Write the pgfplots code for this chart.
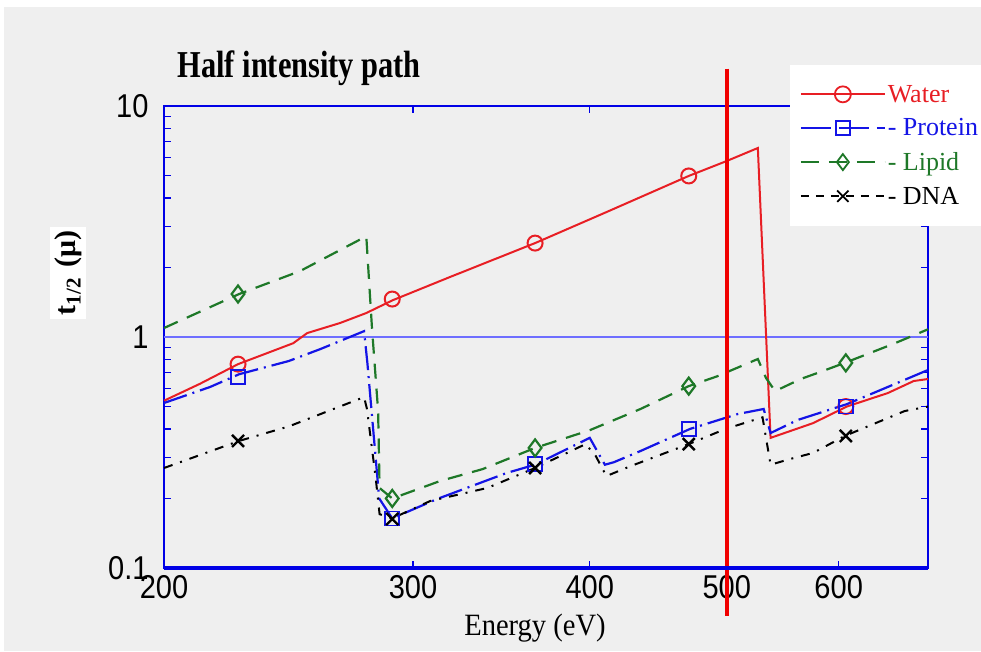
\documentclass[border=0pt]{standalone}
\usepackage{fontspec}
\setmainfont{Liberation Serif}
\setsansfont{Liberation Sans}
\usepackage{graphicx}
\usepackage{pgfplots}
\pgfplotsset{compat=1.18}
\definecolor{cred}{RGB}{232,30,36}
\definecolor{vred}{RGB}{240,0,0}
\definecolor{cblue}{RGB}{20,20,230}
\definecolor{cgreen}{RGB}{30,120,40}
\definecolor{axblue}{RGB}{0,0,230}
\definecolor{gridblue}{RGB}{110,110,255}
\definecolor{bg}{RGB}{239,239,239}
\newcommand{\tl}[1]{\scalebox{0.88}[1]{#1}}
\begin{document}
\begin{tikzpicture}[x=1pt,y=1pt]
\useasboundingbox (0,0) rectangle (981,651);
\fill[white] (0,0) rectangle (981,651);
\fill[bg] (4,0) rectangle (981,644);
\begin{axis}[
  at={(164pt,83pt)}, anchor=south west, scale only axis,
  width=764pt, height=462pt,
  xmode=log, ymode=log, xmin=200, xmax=694, ymin=0.1, ymax=10,
  clip=false,
  axis line style={axblue, line width=1.8pt},
  xtick={200,300,400,500,600}, xticklabels={\tl{200},\tl{300},\tl{400},\tl{500},\tl{600}},
  ytick={0.1,1,10}, yticklabels={\tl{0.1},\tl{1},\tl{10}},
  minor ytick={0.2,0.3,0.4,0.5,0.6,0.7,0.8,0.9,2,3,4,5,6,7,8,9},
  minor xtick={},
  tick style={axblue, line width=1.4pt},
  major tick length=7pt, minor tick length=7pt,
  tick align=inside,
  xticklabel style={font=\sffamily\fontsize{33}{35}\selectfont, yshift=-4pt},
  yticklabel style={font=\sffamily\fontsize{33}{35}\selectfont, xshift=-12pt},
  legend style={at={(0.819,1.089)}, anchor=north west, draw=none, fill=white,
    font=\fontsize{26}{28}\selectfont, row sep=11pt, inner xsep=10pt, inner ysep=18pt},
  legend cell align=left,
  legend image code/.code={\draw[mark repeat=2,mark phase=2,#1] plot coordinates {(0pt,0pt)(42pt,0pt)(84pt,0pt)};},
]
% grid line at 1
\addplot[gridblue, line width=1.2pt, forget plot] coordinates {(200,1)(694,1)};
% Water
\addplot[cred, line width=2pt, forget plot] coordinates {
(200,0.53)(212,0.627)(225.6,0.763)(246.8,0.94)(252.5,1.04)(266.4,1.15)(278,1.27)(290,1.44)
(318,1.81)(366,2.55)(410,3.45)(470,4.98)(500,5.78)(526,6.58)(537,0.366)(575.6,0.424)
(608,0.5)(650,0.572)(678,0.645)(694,0.658)};
\addplot[cred, only marks, mark=o, mark size=7.5pt, mark options={line width=2pt}, forget plot] coordinates {
(225.6,0.763)(290,1.46)(366,2.55)(470,4.98)(607,0.5)};
% Protein
\addplot[cblue, line width=2.2pt, dash pattern=on 24pt off 6pt on 2pt off 6pt, forget plot] coordinates {
(200,0.518)(215.6,0.608)(226,0.69)(245,0.787)(258,0.887)(277,1.06)(278.5,0.77)(283.9,0.2)
(290,0.164)(312,0.199)(349.5,0.258)(366,0.28)(400,0.366)(410,0.28)(416,0.287)(434.5,0.321)
(471,0.4)(509,0.464)(531,0.488)(537,0.384)(561,0.437)(608,0.512)(640,0.584)(694,0.72)};
\addplot[cblue, only marks, mark=square, mark size=7pt, mark options={line width=1.6pt}, forget plot] coordinates {
(225.6,0.67)(290,0.164)(366,0.282)(470,0.4)(607,0.5)};
% Lipid
\addplot[cgreen, line width=2.2pt, dash pattern=on 15pt off 10pt, forget plot] coordinates {
(200,1.094)(226,1.535)(249.6,1.93)(278,2.73)(280.6,1.09)(283.4,0.478)(284.1,0.222)(290,0.2)
(313.5,0.238)(336,0.268)(366,0.331)(400,0.395)(434.5,0.488)(470,0.613)(492,0.675)(526,0.803)
(533,0.665)(541,0.583)(564,0.658)(579.4,0.698)(606,0.773)(655.7,0.933)(694,1.08)};
\addplot[cgreen, only marks, mark=diamond, mark size=8.5pt, mark options={line width=2.2pt}, forget plot] coordinates {
(225.6,1.535)(290,0.2)(366,0.331)(470,0.613)(607,0.773)};
% DNA
\addplot[black, line width=2pt, dash pattern=on 9pt off 8pt on 2pt off 8pt, forget plot] coordinates {
(200,0.271)(226,0.355)(245,0.41)(275,0.54)(277,0.55)(278.3,0.488)(282.3,0.245)(284.1,0.171)
(290,0.164)(308.5,0.195)(338.5,0.222)(366,0.271)(397.4,0.344)(404,0.305)(411,0.25)(427.5,0.276)
(470,0.344)(499,0.4)(530,0.449)(537,0.28)(555,0.297)(575.6,0.315)(606,0.373)(668,0.478)(694,0.5)};
\addplot[black, only marks, mark=x, mark size=8.5pt, mark options={line width=2.4pt}, forget plot] coordinates {
(225.6,0.355)(290,0.163)(366,0.271)(470,0.344)(607,0.373)};
% vertical red line at 500 eV
\addplot[vred, line width=3.5pt, forget plot] coordinates {(500,14.5)(500,0.062)};
% thick bottom axis
\draw[axblue, line width=3.5pt] (rel axis cs:0,0) -- (rel axis cs:1,0);
% legend
\addlegendimage{cred, line width=1.8pt, mark=o, mark size=8pt, mark options={solid}}
\addlegendentry{\textcolor{cred}{Water}}
\addlegendimage{cblue, line width=1.8pt, dash pattern=on 30pt off 8pt, mark=square, mark size=7pt, mark options={solid}}
\addlegendentry{\textcolor{cblue}{- Protein}}
\addlegendimage{cgreen, line width=1.8pt, dash pattern=on 18pt off 10pt, mark=diamond, mark size=8pt, mark options={solid}}
\addlegendentry{\textcolor{cgreen}{- Lipid}}
\addlegendimage{black, line width=1.8pt, dash pattern=on 8pt off 7pt, mark=x, mark size=8pt, mark options={solid}}
\addlegendentry{\textcolor{black}{- DNA}}
\end{axis}
\node[anchor=base west, font=\bfseries\fontsize{38}{40}\selectfont] at (174,573) {\scalebox{0.8}[1]{Half intensity path}};
\node[anchor=base, font=\fontsize{31}{33}\selectfont] at (535,16) {\scalebox{0.92}[1]{Energy (eV)}};
\node[rotate=90, fill=white, inner sep=4pt, font=\bfseries\fontsize{30}{32}\selectfont] at (68,378) {t\textsubscript{1/2}\,\,(μ)};
\end{tikzpicture}
\end{document}
